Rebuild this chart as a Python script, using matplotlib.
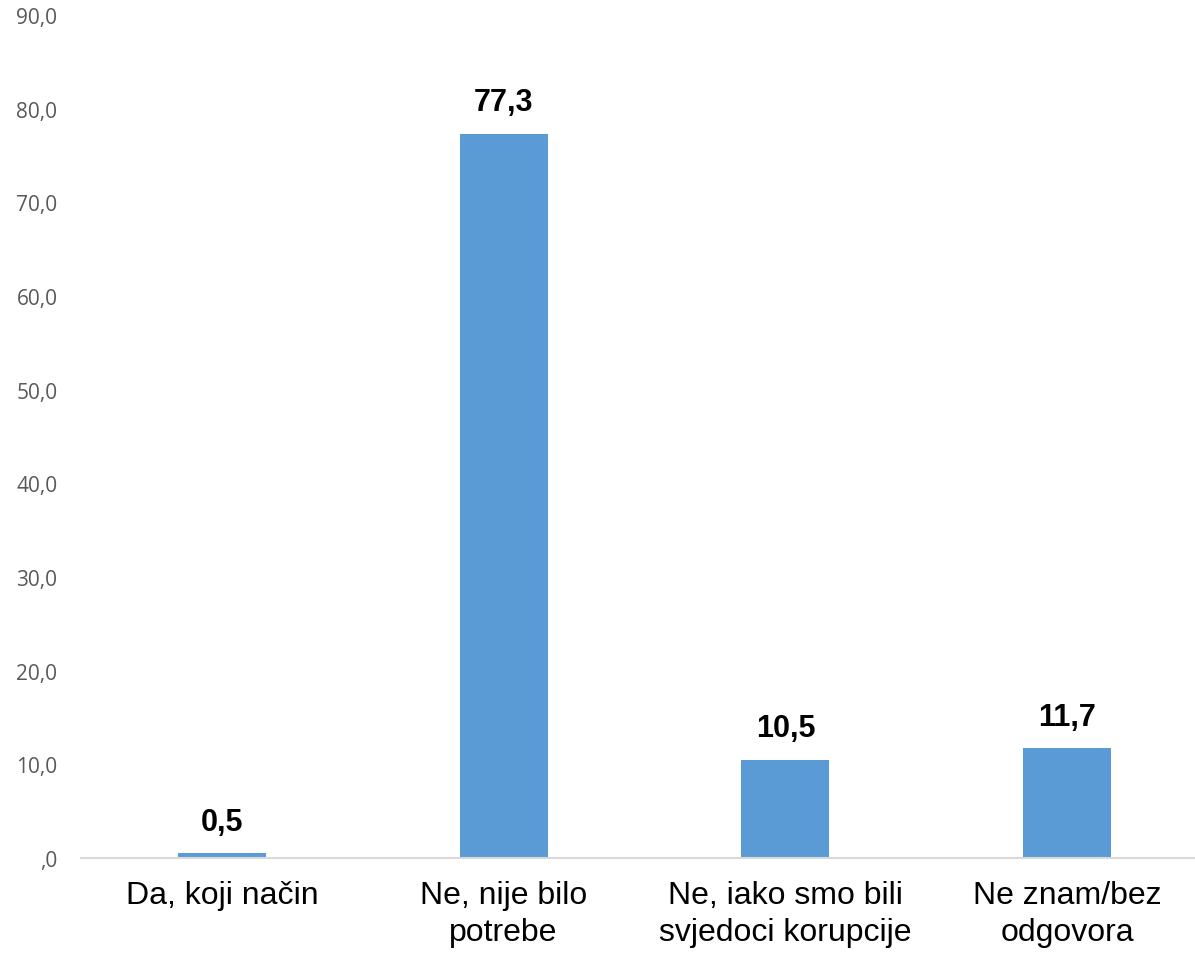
import matplotlib.pyplot as plt
from matplotlib.ticker import FuncFormatter

categories = ["Da, koji način", "Ne, nije bilo\npotrebe",
              "Ne, iako smo bili\nsvjedoci korupcije", "Ne znam/bez\nodgovora"]
values = [0.5, 77.3, 10.5, 11.7]
yticks = [0, 10, 20, 30, 40, 50, 60, 70, 80, 90]

W, H = 1195, 954
fig = plt.figure(figsize=(W / 100, H / 100), dpi=100)
ax = fig.add_axes([81 / W, 95 / H, 1127 / W, 843 / H])

x = range(len(categories))
bars = ax.bar(x, values, width=0.312, color="#5B9BD5")

ax.set_xlim(-0.5, len(categories) - 0.5)
ax.set_ylim(0, 90)
ax.set_yticks(yticks)


def fmt(v, pos):
    s = "{:.1f}".format(v).replace(".", ",")
    if s.startswith("0,"):
        s = s[1:]
    return s


ax.yaxis.set_major_formatter(FuncFormatter(fmt))
ax.set_xticks(list(x))
ax.set_xticklabels(categories, fontsize=23, family="Liberation Sans",
                   color="black", linespacing=1.3, va="top")

ax.tick_params(axis="y", length=0, pad=17, labelsize=15, labelcolor="#595959")
ax.tick_params(axis="x", length=0, pad=16)
for lab in ax.get_yticklabels():
    lab.set_family("Open Sans")

for s in ["top", "right", "left"]:
    ax.spines[s].set_visible(False)
ax.spines["bottom"].set_color("#D9D9D9")
ax.spines["bottom"].set_linewidth(1.5)

for b, v in zip(bars, values):
    ax.annotate("{:.1f}".format(v).replace(".", ","),
                (b.get_x() + b.get_width() / 2, b.get_height()),
                xytext=(0, 12), textcoords="offset points",
                ha="center", va="bottom", fontsize=22, fontweight="bold",
                family="Liberation Sans", color="black")

fig.savefig("out.png", dpi=100)
